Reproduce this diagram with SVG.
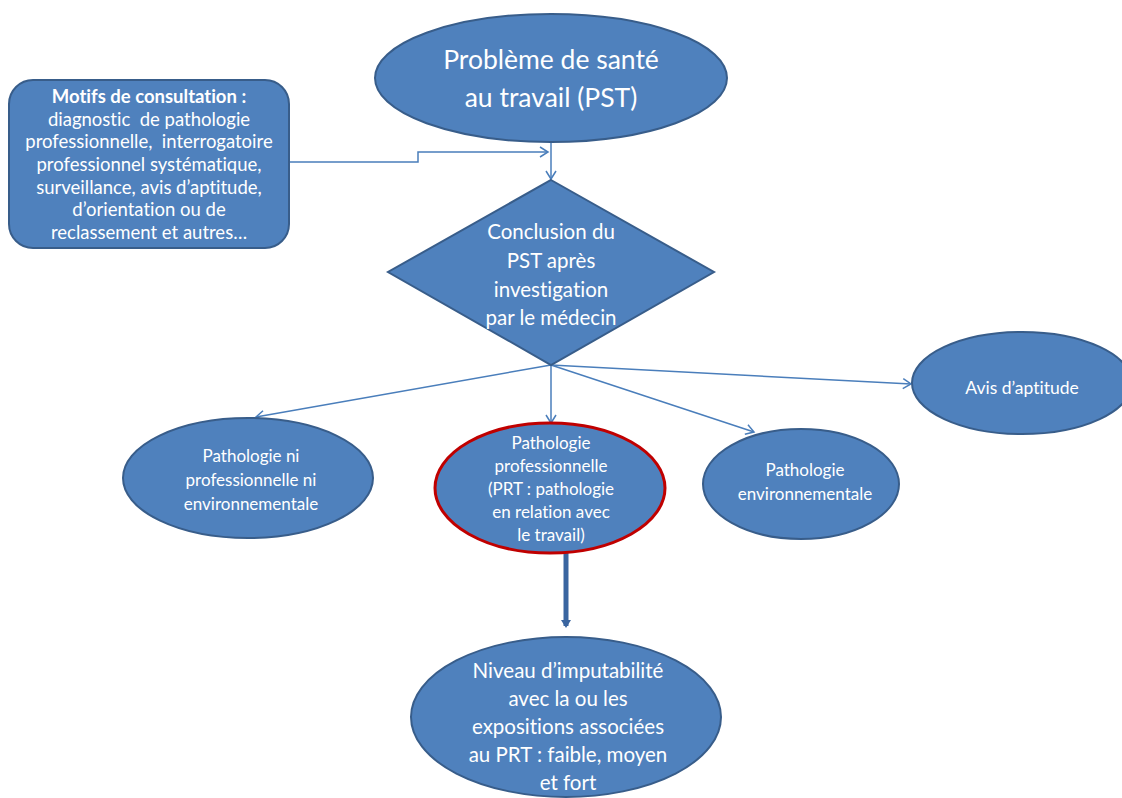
<svg xmlns="http://www.w3.org/2000/svg" width="1122" height="798" viewBox="0 0 1122 798">
<defs>
<style>
.n{fill:#4F81BD;stroke:#385D8A;stroke-width:2}
.t{font-family:Lato,"Liberation Sans",sans-serif;fill:#fff;text-anchor:middle;font-variant-ligatures:none}
.c{fill:none;stroke:#4A7EBB;stroke-width:1.5}
.p{white-space:pre}
</style>
<marker id="a" markerWidth="12" markerHeight="12" refX="10" refY="6" orient="auto" markerUnits="userSpaceOnUse">
<path d="M2,1 L10,6 L2,11" fill="none" stroke="#4A7EBB" stroke-width="1.5"/>
</marker>
<marker id="b" markerWidth="10" markerHeight="10" refX="6" refY="5" orient="auto" markerUnits="userSpaceOnUse">
<path d="M0,0 L8,5 L0,10 Z" fill="#3A65A0"/>
</marker>
</defs>
<rect width="1122" height="798" fill="#fff"/>
<g id="connectors">
<polyline class="c" points="289,162 418,162 418,152 548,152" marker-end="url(#a)"/>
<line class="c" x1="551" y1="142" x2="551" y2="179" marker-end="url(#a)"/>
<line class="c" x1="551" y1="365" x2="256" y2="417" marker-end="url(#a)"/>
<line class="c" x1="551" y1="365" x2="551" y2="423" marker-end="url(#a)"/>
<line class="c" x1="551" y1="365" x2="754" y2="432" marker-end="url(#a)"/>
<line class="c" x1="551" y1="365" x2="911" y2="384" marker-end="url(#a)"/>
<line x1="566" y1="553" x2="566" y2="626" stroke="#3A65A0" stroke-width="5" marker-end="url(#b)"/>
</g>
<g id="pst">
<ellipse class="n" cx="551" cy="78" rx="176" ry="64"/>
<text class="t" font-size="26.5" x="551" y="69">Problème de santé</text>
<text class="t" font-size="26.5" x="551" y="107">au travail (PST)</text>
</g>
<g id="motifs">
<rect class="n" x="9" y="80" width="280" height="168" rx="24"/>
<g class="t" font-size="18.5">
<text x="149" y="103" font-weight="bold">Motifs de consultation :</text>
<text class="p" x="149" y="126">diagnostic  de pathologie</text>
<text class="p" x="149" y="148">professionnelle,  interrogatoire</text>
<text x="149" y="171">professionnel systématique,</text>
<text x="149" y="194">surveillance, avis d’aptitude,</text>
<text x="149" y="216">d’orientation ou de</text>
<text x="149" y="239">reclassement et autres…</text>
</g>
</g>
<g id="conclusion">
<polygon class="n" points="551,180 714,272 551,365 388,272"/>
<g class="t" font-size="20.5">
<text x="551" y="239">Conclusion du</text>
<text x="551" y="268">PST après</text>
<text x="551" y="297">investigation</text>
<text x="551" y="325">par le médecin</text>
</g>
</g>
<g id="ni">
<ellipse class="n" cx="248" cy="478" rx="125" ry="60"/>
<g class="t" font-size="17">
<text x="251" y="462">Pathologie ni</text>
<text x="251" y="486">professionnelle ni</text>
<text x="251" y="510">environnementale</text>
</g>
</g>
<g id="prt">
<ellipse cx="550" cy="488" rx="115" ry="65" fill="#4F81BD" stroke="#C00000" stroke-width="3"/>
<g class="t" font-size="17">
<text x="551" y="449">Pathologie</text>
<text x="551" y="472">professionnelle</text>
<text x="551" y="495">(PRT : pathologie</text>
<text x="551" y="518">en relation avec</text>
<text x="551" y="541">le travail)</text>
</g>
</g>
<g id="env">
<ellipse class="n" cx="801" cy="484" rx="98" ry="55"/>
<g class="t" font-size="17">
<text x="805" y="476">Pathologie</text>
<text x="805" y="500">environnementale</text>
</g>
</g>
<g id="avis">
<ellipse class="n" cx="1022" cy="383" rx="110" ry="51"/>
<text class="t" font-size="17.5" x="1022" y="394">Avis d’aptitude</text>
</g>
<g id="niveau">
<ellipse class="n" cx="566" cy="717" rx="155" ry="80"/>
<g class="t" font-size="20.5">
<text x="568" y="678">Niveau d’imputabilité</text>
<text x="568" y="706">avec la ou les</text>
<text x="568" y="734">expositions associées</text>
<text x="568" y="762">au PRT : faible, moyen</text>
<text x="568" y="790">et fort</text>
</g>
</g>
</svg>
